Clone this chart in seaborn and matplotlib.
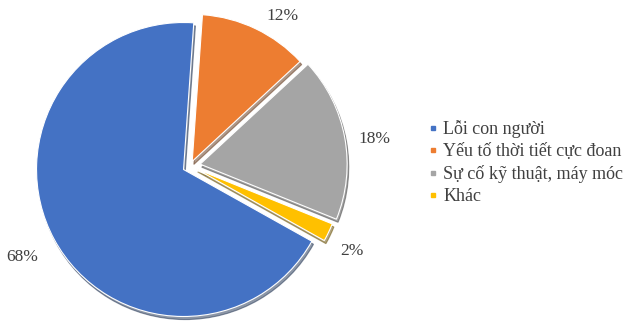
import math
import matplotlib
matplotlib.use("Agg")
import matplotlib.pyplot as plt
import seaborn as sns
from matplotlib.lines import Line2D

categories = ["Lỗi con người", "Yếu tố thời tiết cực đoan", "Sự cố kỹ thuật, máy móc", "Khác"]
values = [68, 12, 18, 2]
colors = ["#4472C4", "#ED7D31", "#A5A5A5", "#FFC000"]
explode = [0.05, 0.035, 0.07, 0.045]

sns.set_theme(style="white")
plt.rcParams["font.family"] = ["Liberation Serif", "DejaVu Serif"]

W, H = 642, 324
fig = plt.figure(figsize=(W / 100, H / 100), dpi=100)
ax = fig.add_axes([0, 0, 1, 1])

R = 147.0
cx, cy = 190.0, 166.0  # pie centre in pixels (image coords)

wedges, texts, autotexts = ax.pie(
    values, colors=colors, explode=explode,
    startangle=90 - (12 + 18 + 2) * 3.6 - 4,
    counterclock=False, radius=1.0,
    autopct=lambda p: f"{p:.0f}%", pctdistance=1.2,
    wedgeprops=dict(edgecolor="white", linewidth=0.8),
    textprops=dict(fontsize=12.5, color="#404040"),
    shadow=dict(ox=0.008, oy=-0.015, shade=0.6, alpha=0.5),
)
# label placement tweaks: (radial scale, angular shift in degrees)
tweak = {0: (1.04, 0), 1: (0.97, -6), 2: (1.0, -2), 3: (1.0, -2)}
for i, t in enumerate(autotexts):
    x, y = t.get_position()
    k, da = tweak[i]
    r = math.hypot(x, y) * k
    a = math.atan2(y, x) + math.radians(da)
    t.set_position((r * math.cos(a), r * math.sin(a)))

ax.set_xlim(-cx / R, (W - cx) / R)
ax.set_ylim(-(H - cy) / R, cy / R)
ax.set_aspect("auto")
ax.axis("off")

handles = [Line2D([0], [0], marker="s", linestyle="none", markersize=3.5,
                  markerfacecolor=c, markeredgecolor=c) for c in colors]
fig.legend(handles, categories, loc="upper left", bbox_to_anchor=(428 / W, 1 - 120 / H),
           frameon=False, fontsize=13, handlelength=0.5, handletextpad=0.35,
           labelspacing=0.28, borderaxespad=0, borderpad=0, labelcolor="#404040")

fig.savefig("out.png", dpi=100, facecolor="white")
